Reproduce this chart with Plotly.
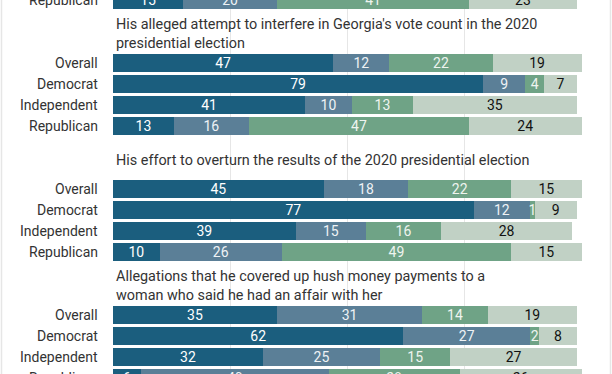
import plotly.graph_objects as go

# ---- data ----
parties = ["Overall", "Democrat", "Independent", "Republican"]
item_titles = [
    "",
    "His alleged attempt to interfere in Georgia's vote count in the 2020<br>presidential election",
    "His effort to overturn the results of the 2020 presidential election",
    "Allegations that he covered up hush money payments to a<br>woman who said he had an affair with her",
]
# rows visible in the crop: (item index, party)
row_item = [0, 1, 1, 1, 1, 2, 2, 2, 2, 3, 3, 3, 3]
row_party = ["Republican",
             "Overall", "Democrat", "Independent", "Republican",
             "Overall", "Democrat", "Independent", "Republican",
             "Overall", "Democrat", "Independent", "Republican"]
series_names = ["Extremely/very serious", "Somewhat serious", "Not very serious", "Not at all serious"]
very_serious = [15, 47, 79, 41, 13, 45, 77, 39, 10, 35, 62, 32, 6]
somewhat_serious = [20, 12, 9, 10, 16, 18, 12, 15, 26, 31, 27, 25, 40]
not_very_serious = [41, 22, 4, 13, 47, 22, 1, 16, 49, 14, 2, 15, 28]
not_at_all_serious = [23, 19, 7, 35, 24, 15, 9, 28, 15, 19, 8, 27, 26]

# ---- style ----
colors = ["#1b5e7e", "#5b7f97", "#6fa386", "#c1d1c5"]
text_colors = ["#ffffff", "#eef2f5", "#eef4ef", "#111111"]
FONT = "Roboto"
ROW_PX = 21.0
W, H = 612, 374
Y_SPAN = H / ROW_PX

# y position in row units: each item takes 6 row slots (2 for its title, 4 for rows)
def ypos(item, party):
    return 6 * item - 3 + parties.index(party)

ys = [ypos(i, p) for i, p in zip(row_item, row_party)]

fig = go.Figure()
for name, vals, c, tc in zip(series_names,
                             [very_serious, somewhat_serious, not_very_serious, not_at_all_serious],
                             colors, text_colors):
    fig.add_trace(go.Bar(
        name=name, x=vals, y=ys, orientation="h",
        marker=dict(color=c, line=dict(width=0)),
        width=18 / ROW_PX,
        text=[str(v) for v in vals], textposition="inside",
        insidetextanchor="middle", textangle=0,
        textfont=dict(family=FONT, size=14, color=tc),
        hoverinfo="skip",
    ))

# row labels (paper-referenced so partially visible rows still get their label)
for y, p in zip(ys, row_party):
    fig.add_annotation(
        x=0, xref="paper", xanchor="right", xshift=-13,
        y=1 - y / Y_SPAN, yref="paper", yanchor="middle",
        text=p, showarrow=False,
        font=dict(family=FONT, size=14, color="#333333"),
    )

# item titles
for i, t in enumerate(item_titles):
    if not t:
        continue
    fig.add_annotation(
        x=0, xref="x", xanchor="left", xshift=1,
        y=ypos(i, "Overall") - 29 / ROW_PX, yref="y", yanchor="middle",
        text=t, showarrow=False, align="left",
        font=dict(family=FONT, size=14.4, color="#333333"),
    )

# light page border lines at left/right edges
ml, mr = 113, 30
pw = W - ml - mr
for px in (1.5, W - 1.5):
    fig.add_shape(type="line", xref="paper", yref="paper",
                  x0=(px - ml) / pw, x1=(px - ml) / pw, y0=0, y1=1,
                  line=dict(color="#e6e6e6", width=1.5), layer="above")

fig.update_layout(
    barmode="stack",
    bargap=0,
    width=W, height=H,
    margin=dict(l=ml, r=mr, t=0, b=0),
    plot_bgcolor="white", paper_bgcolor="white",
    showlegend=False,
    hovermode=False,
    uniformtext=dict(minsize=14, mode="show"),
    font=dict(family=FONT, size=14, color="#333333"),
)
fig.update_xaxes(range=[0, 100.1], tickvals=[0, 25, 50, 75, 100], showticklabels=False,
                 showgrid=True, gridcolor="#e6e6e6", gridwidth=1, zeroline=False, fixedrange=True)
fig.update_yaxes(range=[Y_SPAN, 0], showticklabels=False,
                 showgrid=False, zeroline=False, ticks="", fixedrange=True)

fig.write_html("out.html", config={"displayModeBar": False, "staticPlot": True},
               post_script="document.body.style.margin='0px';")
